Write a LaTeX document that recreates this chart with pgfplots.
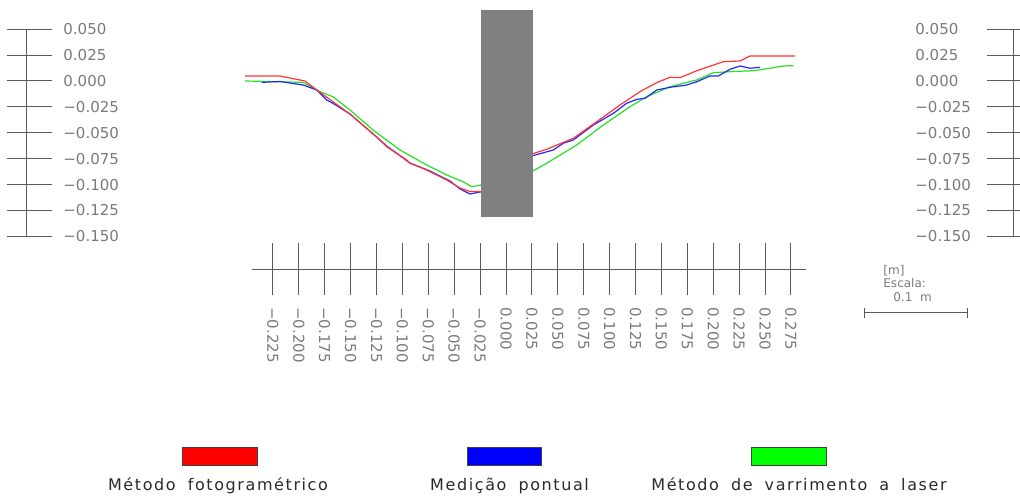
\documentclass[border=0pt]{standalone}
\usepackage{fontspec}
\setmainfont{DejaVu Sans}
\newfontfamily\legfont[LetterSpace=10,WordSpace=1.8]{DejaVu Sans}
\usepackage{pgfplots}
\pgfplotsset{compat=1.18}
\definecolor{tickgray}{HTML}{7A7A7A}
\definecolor{linegray}{HTML}{5A5A5A}
\definecolor{boxgray}{HTML}{808080}
\definecolor{cred}{HTML}{FF3535}
\definecolor{cblue}{HTML}{2525FF}
\definecolor{cgreen}{HTML}{25E025}
\definecolor{txtdark}{HTML}{2A2A2A}
\newcommand\ylab[2]{%
  \node[anchor=west,inner sep=0pt,text=tickgray,font=\fontsize{7.5}{9}\selectfont] at (axis cs:-0.4276,#1) {#2};%
  \node[anchor=west,inner sep=0pt,text=tickgray,font=\fontsize{7.5}{9}\selectfont] at (axis cs:0.3948,#1) {#2};}
\newcommand\xlab[2]{%
  \node[rotate=-90,anchor=west,inner sep=0pt,text=tickgray,font=\fontsize{7.5}{9}\selectfont] at (axis cs:#1,-0.2181) {#2};}
\begin{document}
\begin{tikzpicture}
\begin{axis}[width=510pt,height=248.5pt,scale only axis,hide axis,clip=false,
  xmin=-0.48842,xmax=0.49614,ymin=-0.40154,ymax=0.07819]
% --- data ---
\addplot[cgreen,line width=0.6pt] coordinates {
(-0.2519,0.0000) (-0.1959,-0.0013) (-0.1795,-0.0103) (-0.1670,-0.0152) (-0.1506,-0.0280)
(-0.1284,-0.0473) (-0.1023,-0.0666) (-0.0765,-0.0811) (-0.0572,-0.0907) (-0.0415,-0.0972)
(-0.0331,-0.1020) (-0.0241,-0.1004)};
\addplot[cgreen,line width=0.6pt] coordinates {
(0.0248,-0.0875) (0.0393,-0.0794) (0.0682,-0.0618) (0.0939,-0.0425) (0.1197,-0.0248)
(0.1358,-0.0152) (0.1583,-0.0055) (0.1841,0.0010) (0.2001,0.0080) (0.2162,0.0090)
(0.2387,0.0099) (0.2548,0.0123) (0.2677,0.0145) (0.2773,0.0148)};
\addplot[cblue,line width=0.6pt] coordinates {
(-0.2358,-0.0013) (-0.2181,-0.0005) (-0.1957,-0.0039) (-0.1827,-0.0087) (-0.1731,-0.0183)
(-0.1670,-0.0215) (-0.1506,-0.0319) (-0.1248,-0.0541) (-0.1152,-0.0627) (-0.0927,-0.0792)
(-0.0734,-0.0869) (-0.0541,-0.0965) (-0.0444,-0.1042) (-0.0347,-0.1091) (-0.0241,-0.1069)};
\addplot[cblue,line width=0.6pt] coordinates {
(0.0248,-0.0724) (0.0457,-0.0666) (0.0553,-0.0601) (0.0650,-0.0569) (0.0843,-0.0425)
(0.1036,-0.0312) (0.1165,-0.0215) (0.1262,-0.0177) (0.1342,-0.0167) (0.1455,-0.0087)
(0.1583,-0.0061) (0.1744,-0.0039) (0.1841,-0.0007) (0.1969,0.0048) (0.2049,0.0048)
(0.2162,0.0113) (0.2259,0.0145) (0.2355,0.0123) (0.2452,0.0132)};
\addplot[cred,line width=0.6pt] coordinates {
(-0.2519,0.0048) (-0.2181,0.0048) (-0.2153,0.0042) (-0.1940,0.0000) (-0.1827,-0.0087)
(-0.1670,-0.0200) (-0.1506,-0.0319) (-0.1248,-0.0541) (-0.1152,-0.0634) (-0.0958,-0.0763)
(-0.0927,-0.0794) (-0.0765,-0.0859) (-0.0734,-0.0875) (-0.0572,-0.0956) (-0.0444,-0.1033)
(-0.0347,-0.1067) (-0.0241,-0.1067)};
\addplot[cred,line width=0.6pt] coordinates {
(0.0248,-0.0705) (0.0393,-0.0659) (0.0650,-0.0553) (0.0875,-0.0393) (0.1100,-0.0232)
(0.1293,-0.0103) (0.1455,-0.0016) (0.1583,0.0036) (0.1680,0.0032) (0.1841,0.0099)
(0.2097,0.0186) (0.2259,0.0193) (0.2355,0.0241) (0.2790,0.0241)};
% --- grey block ---
\addplot[fill=boxgray,draw=none] coordinates {(-0.0241,-0.1313) (0.0261,-0.1313) (0.0261,0.0686) (-0.0241,0.0686)} -- cycle;
% --- vertical scales ---
\draw[linegray,line width=0.5pt] (axis cs:-0.4624,0.05) -- (axis cs:-0.4624,-0.15);
\draw[linegray,line width=0.5pt] (axis cs:0.4894,0.05) -- (axis cs:0.4894,-0.15);
\pgfplotsinvokeforeach{0.05,0.025,0,-0.025,-0.05,-0.075,-0.1,-0.125,-0.15}{
  \draw[linegray,line width=0.5pt] (axis cs:-0.4817,#1) -- (axis cs:-0.4382,#1);
  \draw[linegray,line width=0.5pt] (axis cs:0.4643,#1) -- (axis cs:0.4961,#1);
}
\ylab{0.05}{0.050}
\ylab{0.025}{0.025}
\ylab{0}{0.000}
\ylab{-0.025}{−0.025}
\ylab{-0.05}{−0.050}
\ylab{-0.075}{−0.075}
\ylab{-0.1}{−0.100}
\ylab{-0.125}{−0.125}
\ylab{-0.15}{−0.150}
% --- horizontal scale ---
\draw[linegray,line width=0.5pt] (axis cs:-0.2452,-0.1815) -- (axis cs:0.2896,-0.1815);
\pgfplotsinvokeforeach{-0.225,-0.2,-0.175,-0.15,-0.125,-0.1,-0.075,-0.05,-0.025,0,0.025,0.05,0.075,0.1,0.125,0.15,0.175,0.2,0.225,0.25,0.275}{
  \draw[linegray,line width=0.5pt] (axis cs:#1,-0.1564) -- (axis cs:#1,-0.2066);
}
\xlab{-0.225}{−0.225}
\xlab{-0.2}{−0.200}
\xlab{-0.175}{−0.175}
\xlab{-0.15}{−0.150}
\xlab{-0.125}{−0.125}
\xlab{-0.1}{−0.100}
\xlab{-0.075}{−0.075}
\xlab{-0.05}{−0.050}
\xlab{-0.025}{−0.025}
\xlab{0}{0.000}
\xlab{0.025}{0.025}
\xlab{0.05}{0.050}
\xlab{0.075}{0.075}
\xlab{0.1}{0.100}
\xlab{0.125}{0.125}
\xlab{0.15}{0.150}
\xlab{0.175}{0.175}
\xlab{0.2}{0.200}
\xlab{0.225}{0.225}
\xlab{0.25}{0.250}
\xlab{0.275}{0.275}
% --- scale bar ---
\node[anchor=west,inner sep=0pt,text=tickgray,font=\fontsize{6}{7}\selectfont] at (axis cs:0.3639,-0.1834) {[m]};
\node[anchor=west,inner sep=0pt,text=tickgray,font=\fontsize{6}{7}\selectfont] at (axis cs:0.3639,-0.1950) {Escala:};
\node[anchor=west,inner sep=0pt,text=tickgray,font=\fontsize{6}{7}\selectfont] at (axis cs:0.3735,-0.2085) {0.1\ \ m};
\draw[linegray,line width=0.5pt] (axis cs:0.3456,-0.2239) -- (axis cs:0.4459,-0.2239);
\draw[linegray,line width=0.5pt] (axis cs:0.3456,-0.2191) -- (axis cs:0.3456,-0.2287);
\draw[linegray,line width=0.5pt] (axis cs:0.4459,-0.2191) -- (axis cs:0.4459,-0.2287);
% --- legend ---
\draw[fill=red,draw=black!75,line width=0.5pt] (axis cs:-0.3127,-0.3542) rectangle (axis cs:-0.2403,-0.3707);
\draw[fill=blue,draw=black!75,line width=0.5pt] (axis cs:-0.0376,-0.3542) rectangle (axis cs:0.0338,-0.3707);
\draw[fill={rgb,255:red,0;green,255;blue,0},draw=black!75,line width=0.5pt] (axis cs:0.2365,-0.3542) rectangle (axis cs:0.3089,-0.3707);
\node[anchor=base,inner sep=0pt,text=txtdark,font=\legfont\fontsize{8}{9.6}\selectfont] at (axis cs:-0.2780,-0.3948) {Método fotogramétrico};
\node[anchor=base,inner sep=0pt,text=txtdark,font=\legfont\fontsize{8}{9.6}\selectfont] at (axis cs:0.0034,-0.3948) {Medição pontual};
\node[anchor=base,inner sep=0pt,text=txtdark,font=\legfont\fontsize{8}{9.6}\selectfont] at (axis cs:0.2828,-0.3948) {Método de varrimento a laser};
\end{axis}
\pgfresetboundingbox
\path[use as bounding box] (current axis.south west) rectangle (current axis.north east);
\end{tikzpicture}
\end{document}
